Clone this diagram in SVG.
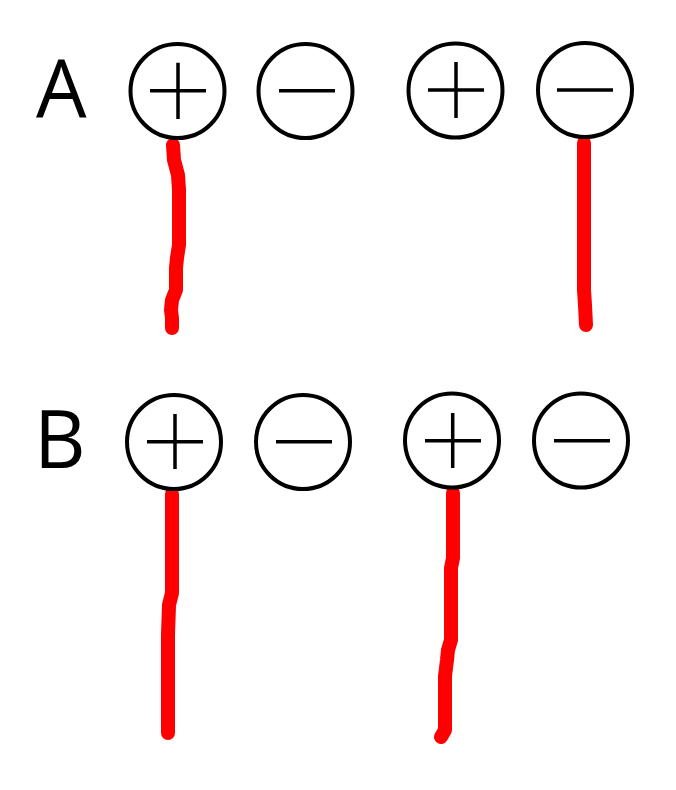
<svg xmlns="http://www.w3.org/2000/svg" width="676" height="790" viewBox="0 0 676 790">
<style>
.term{fill:#fff;stroke:#000;stroke-width:4}
.sign{stroke:#000;stroke-width:3.5;fill:none}
.wire{stroke:#ff0000;stroke-width:14;fill:none;stroke-linecap:round;stroke-linejoin:round}
.lbl{font-family:"Open Sans","Liberation Sans",sans-serif;font-size:80px;fill:#000}
</style>
<rect width="676" height="790" fill="#fff"/>
<text class="lbl" x="36" y="117">A</text>
<text class="lbl" x="34" y="468">B</text>
<g id="connectors">
<path class="wire" d="M173,145 L174,160 L178,175 L179,190 L179,245 L177,258 L176,268 L176,290 L172,300 L171,310 L172,318 L172,328"/>
<path class="wire" d="M584,143 L584,290 L585,305 L586,325"/>
<path class="wire" d="M172,494 L172,593 L169,605 L168,635 L168,733"/>
<path class="wire" d="M453,493 L453,558 L451,568 L451,640 L448,650 L447,660 L445,676 L445,730 L441,737"/>
</g>
<g id="A1plus"><circle class="term" cx="177.5" cy="91" r="47"/><path class="sign" d="M150,90.7H206M178,62.7V119"/></g>
<g id="A1minus"><circle class="term" cx="305.5" cy="91" r="47"/><path class="sign" d="M279,90.7H335"/></g>
<g id="A2plus"><circle class="term" cx="455.5" cy="90.5" r="47"/><path class="sign" d="M428,90H484M456,62V118"/></g>
<g id="A2minus"><circle class="term" cx="585" cy="90" r="47"/><path class="sign" d="M557,90H613"/></g>
<g id="B1plus"><circle class="term" cx="174" cy="442" r="47"/><path class="sign" d="M147,441.7H203M175,414V469"/></g>
<g id="B1minus"><circle class="term" cx="303" cy="442" r="47"/><path class="sign" d="M276,441.7H332"/></g>
<g id="B2plus"><circle class="term" cx="452" cy="440.5" r="47"/><path class="sign" d="M425,440.7H481M452.7,413V468"/></g>
<g id="B2minus"><circle class="term" cx="581" cy="440.5" r="47"/><path class="sign" d="M554,440.7H610"/></g>
</svg>
